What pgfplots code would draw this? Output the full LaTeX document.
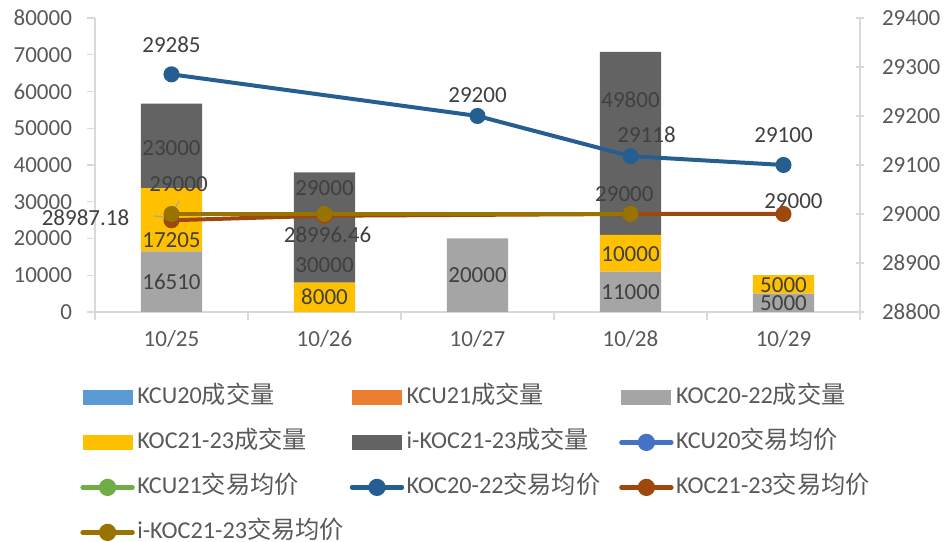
\documentclass[border=0pt]{standalone}
\usepackage{pgfplots}
\pgfplotsset{compat=1.18}
\usepackage{fontspec}
\setmainfont{Carlito}
\newfontfamily\cjk{Noto Sans CJK SC}
\definecolor{cKCUa}{HTML}{5B9BD5}
\definecolor{cKCUb}{HTML}{ED7D31}
\definecolor{cGray}{HTML}{A5A5A5}
\definecolor{cYel}{HTML}{FFC000}
\definecolor{cDark}{HTML}{636363}
\definecolor{lKCUa}{HTML}{4472C4}
\definecolor{lKCUb}{HTML}{70AD47}
\definecolor{lBlue}{HTML}{255E91}
\definecolor{lBrown}{HTML}{9E480E}
\definecolor{lOlive}{HTML}{997300}
\definecolor{axgray}{HTML}{D9D9D9}
\definecolor{tickgray}{HTML}{595959}
\definecolor{labcol}{HTML}{404040}
\newcommand\fs{\fontsize{11.5}{13.8}\selectfont}
\newcommand\fl{\fontsize{12.1}{14.5}\selectfont}
\tikzset{lab/.style={text=labcol, font=\fs, inner sep=0pt}}
\pgfplotsset{
  barleg/.style={legend image code/.code={\fill[##1] (0pt,-3.75pt) rectangle (25pt,3.75pt);}},
  lineleg/.style={legend image code/.code={\draw[##1, line cap=round] (0pt,0pt) -- (25pt,0pt); \fill[##1] (12.5pt,0pt) circle (3.2pt);}},
  common/.style={at={(0,0)}, anchor=south west, scale only axis, width=382.5pt, height=147pt,
    xmin=-0.5, xmax=4.5, scaled y ticks=false,
    axis line style={draw=axgray, line width=0.6pt, -},
    tick label style={font=\fs, text=tickgray},
    /pgf/number format/assume math mode=true, /pgf/number format/1000 sep={}, /pgf/number format/fixed},
}
\begin{document}
\fs
\begin{tikzpicture}
\begin{axis}[common, name=ax,
  ymin=0, ymax=80000, ytick distance=10000,
  xtick={-0.5,0.5,1.5,2.5,3.5,4.5}, xticklabels={},
  extra x ticks={0,1,2,3,4}, extra x tick labels={10/25,10/26,10/27,10/28,10/29},
  extra x tick style={major tick length=0pt, xticklabel style={yshift=-5pt}},
  axis x line*=bottom, axis y line*=left,
  tick align=outside, major tick length=4pt,
  tick style={draw=axgray, line width=0.6pt},
  yticklabel style={xshift=-3.5pt},
  ybar stacked, bar width=0.4,
  legend style={at={(0,0)}, anchor=north west, xshift=-7.5pt, yshift=-35.5pt,
    draw=none, fill=none, legend columns=3, column sep=0pt, row sep=8.5pt, inner sep=0pt,
    nodes={inner sep=1.25pt, text=tickgray, font=\fl, anchor=west, text height=9pt, text depth=2.5pt}},
  legend cell align=left,
]
\addlegendimage{barleg, fill=cKCUa, draw=none}
\addlegendimage{barleg, fill=cKCUb, draw=none}
\addplot[fill=cGray, draw=none, barleg] coordinates {(0,16510) (1,0) (2,20000) (3,11000) (4,5000)};
\addplot[fill=cYel, draw=none, barleg] coordinates {(0,17205) (1,8000) (2,0) (3,10000) (4,5000)};
\addplot[fill=cDark, draw=none, barleg] coordinates {(0,23000) (1,30000) (2,0) (3,49800) (4,0)};
\addlegendimage{lineleg, color=lKCUa, line width=2.2pt}
\addlegendimage{lineleg, color=lKCUb, line width=2.2pt}
\addlegendimage{lineleg, color=lBlue, line width=2.2pt}
\addlegendimage{lineleg, color=lBrown, line width=2.2pt}
\addlegendimage{lineleg, color=lOlive, line width=2.2pt}
\legend{
  \makebox[105pt][l]{KCU20{\cjk 成交量}},
  \makebox[105pt][l]{KCU21{\cjk 成交量}},
  \makebox[105pt][l]{KOC20-22{\cjk 成交量}},
  \makebox[105pt][l]{KOC21-23{\cjk 成交量}},
  \makebox[105pt][l]{i-KOC21-23{\cjk 成交量}},
  \makebox[105pt][l]{KCU20{\cjk 交易均价}},
  \makebox[105pt][l]{KCU21{\cjk 交易均价}},
  \makebox[105pt][l]{KOC20-22{\cjk 交易均价}},
  \makebox[105pt][l]{KOC21-23{\cjk 交易均价}},
  \makebox[105pt][l]{i-KOC21-23{\cjk 交易均价}}}
\end{axis}
\begin{axis}[common,
  ymin=28800, ymax=29400, ytick distance=100,
  axis x line=none, axis y line*=right,
  tick align=center, major tick length=4pt,
  tick style={draw=axgray, line width=0.6pt},
  yticklabel style={xshift=5pt},
  clip=false,
]
\addplot[color=lBlue, line width=2pt, mark=*, mark size=3pt, mark options={solid, fill=lBlue}] coordinates {(0,29285) (2,29200) (3,29118) (4,29100)};
\addplot[color=lBrown, line width=2pt, mark=*, mark size=3pt, mark options={solid, fill=lBrown}] coordinates {(0,28987.18) (1,28996.46) (3,29000) (4,29000)};
\addplot[color=lOlive, line width=2pt, mark=*, mark size=3pt, mark options={solid, fill=lOlive}] coordinates {(0,29000) (1,29000) (3,29000)};
\draw[color=cGray, line width=0.6pt] (axis cs:0.052,29027) -- (axis cs:0.005,29003);
\draw[color=cGray, line width=0.6pt] (axis cs:-0.116,28996) -- (axis cs:-0.028,28993);
\node[lab] at (axis cs:0,29345) {29285};
\node[lab] at (axis cs:0,29135) {23000};
\node[lab] at (axis cs:0.046,29061) {29000};
\node[lab] at (axis cs:-0.562,28992) {28987.18};
\node[lab] at (axis cs:0,28947) {17205};
\node[lab] at (axis cs:0,28861) {16510};
\node[lab] at (axis cs:1,29053) {29000};
\node[lab] at (axis cs:1.02,28957) {28996.46};
\node[lab] at (axis cs:1,28896) {30000};
\node[lab] at (axis cs:1,28831) {8000};
\node[lab] at (axis cs:2,29243) {29200};
\node[lab] at (axis cs:2,28876) {20000};
\node[lab] at (axis cs:3,29233) {49800};
\node[lab] at (axis cs:3.105,29161) {29118};
\node[lab] at (axis cs:2.96,29041) {29000};
\node[lab] at (axis cs:3,28918) {10000};
\node[lab] at (axis cs:3,28841) {11000};
\node[lab] at (axis cs:4,29161) {29100};
\node[lab] at (axis cs:4.065,29027) {29000};
\node[lab] at (axis cs:4,28855) {5000};
\node[lab] at (axis cs:4,28818) {5000};
\end{axis}
\pgfresetboundingbox
\path ([shift={(-47.5pt,-115pt)}]ax.south west) rectangle ([shift={(44pt,9pt)}]ax.north east);
\end{tikzpicture}
\end{document}
